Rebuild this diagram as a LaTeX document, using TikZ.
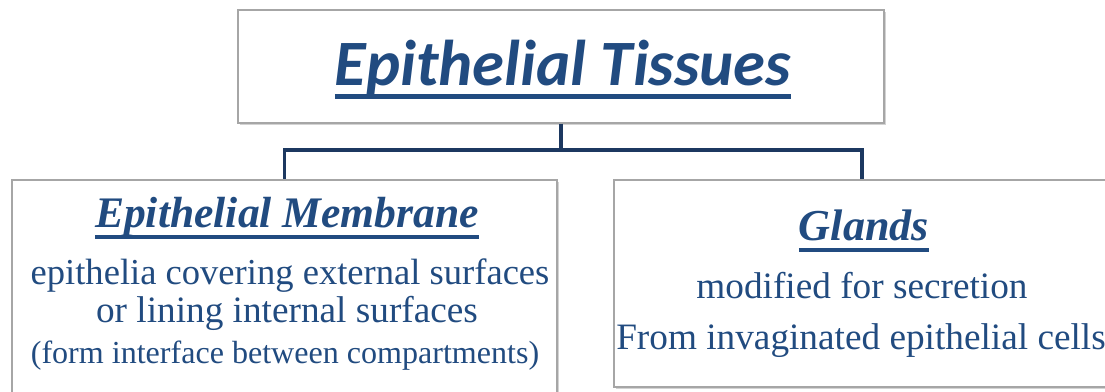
\documentclass[tikz,border=0pt]{standalone}
\usepackage{fontspec}
\setmainfont{Liberation Serif}
\newfontfamily\titlefont{Carlito}
\usetikzlibrary{shadows}
\definecolor{inkblue}{RGB}{33,75,128}
\definecolor{linkblue}{RGB}{28,56,96}
% thick underline: depth, thickness, text
\newcommand{\barbelow}[3]{\setbox0=\hbox{#3}\rlap{\rule[-#1]{\wd0}{#2}}\box0}
\tikzset{
  panel/.style={draw=gray!70, line width=0.8pt, fill=white, inner sep=0pt,
    drop shadow={shadow xshift=1.6pt, shadow yshift=-1.6pt, opacity=0.35}},
  link/.style={linkblue, line width=2.8pt},
  txt/.style={inkblue, inner sep=0pt, anchor=base}
}
\begin{document}
\begin{tikzpicture}[x=0.025cm, y=-0.025cm]
    \useasboundingbox (0,0) rectangle (1105,392);
    % boxes
    \node[panel, minimum width=646*0.025cm, minimum height=113*0.025cm] (top) at (561,66.5) {};
    \node[panel, minimum width=545*0.025cm, minimum height=225*0.025cm] (memb) at (284.5,292.5) {};
    \node[panel, minimum width=496*0.025cm, minimum height=207*0.025cm] (glands) at (862,283.5) {};
    % connectors
    \coordinate (fork) at (561,150);
    \draw[link] (top.south) -- (fork);
    \draw[link] (fork) -| (memb.north);
    \draw[link] (fork) -| (glands.north);
    % title
    \node[txt] (title) at (563,86) {\fontsize{46}{52}\selectfont\titlefont\bfseries\itshape
        \barbelow{9pt}{3.4pt}{Epithelial Tissues}};
    % left panel
    \node[txt] (membhead) at (287,228) {\fontsize{31}{36}\selectfont\bfseries\itshape
        \barbelow{7.5pt}{2.6pt}{Epithelial Membrane}};
    \node[txt] (memb1) at (290,285) {\fontsize{26}{30}\selectfont epithelia covering external surfaces};
    \node[txt] (memb2) at (287,323) {\fontsize{26.5}{30}\selectfont or lining internal surfaces};
    \node[txt] (memb3) at (285,364) {\fontsize{22.8}{26}\selectfont (form interface between compartments)};
    % right panel
    \node[txt] (glandhead) at (864,241) {\fontsize{31.4}{36}\selectfont\bfseries\itshape
        \barbelow{7.5pt}{2.6pt}{Glands}};
    \node[txt] (gland1) at (862,299) {\fontsize{26.5}{30}\selectfont modified for secretion};
    \node[txt] (gland2) at (861,350) {\fontsize{26.5}{30}\selectfont From invaginated epithelial cells};
\end{tikzpicture}
\end{document}
